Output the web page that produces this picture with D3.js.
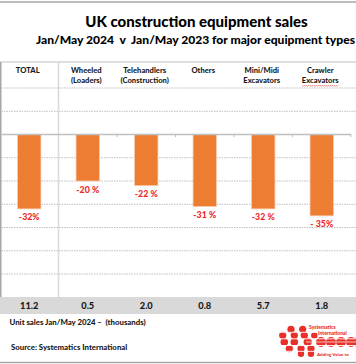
<!DOCTYPE html>
<html><head><meta charset="utf-8">
<script src="https://cdn.jsdelivr.net/npm/d3@7"></script>
<style>
html,body{margin:0;padding:0;background:#fff;}
text{font-family:"Lato","Noto Sans",sans-serif;font-weight:900;white-space:pre;}
</style></head>
<body>
<div id="chart"></div>
<script>
const categories = ["TOTAL","Wheeled","Telehandlers","Others","Mini/Midi","Crawler"];
const headerLine2 = ["","(Loaders)","(Construction)","","Excavators","Excavators"];
const changePct = [-32,-20,-22,-31,-32,-35];
const changeLabels = ["-32%","-20 %","-22 %","-31 %","-32 %","- 35%"];
const unitSales = ["11.2","0.5","2.0","0.8","5.7","1.8"];
const yTicks = [-60,-50,-40,-30,-20,-10,10,20];
const title = "UK construction equipment sales";
const subtitle = "Jan/May 2024  v  Jan/May 2023 for major equipment types";
const footnote = "Unit sales Jan/May 2024 \u2013  (thousands)";
const source = "Source: Systematics International";

const W = 356, H = 364;
const svg = d3.select("#chart").append("svg").attr("width",W).attr("height",H);
svg.append("rect").attr("width",W).attr("height",H).attr("fill","#fff");

const x = d3.scaleBand().domain(categories).range([0,351]).paddingInner(0.6).paddingOuter(0.3);
const y = d3.scaleLinear().domain([-70,20]).range([297.25,88]);
const step = x.step();
const cx = c => x(c) + x.bandwidth()/2;

// outer borders
svg.append("line").attr("x1",0).attr("x2",W).attr("y1",2).attr("y2",2).attr("stroke","#a6a6a6").attr("stroke-width",1.5);
svg.append("line").attr("x1",0).attr("x2",W).attr("y1",362.5).attr("y2",362.5).attr("stroke","#a6a6a6").attr("stroke-width",1.5);

// titles
svg.append("text").attr("x",196.5).attr("y",26.5).attr("text-anchor","middle").attr("font-size",15).attr("font-weight",700).attr("fill","#000").text(title);
const sub = svg.append("text").attr("x",36).attr("y",43.5).attr("font-size",12.1).attr("font-weight",700).attr("fill","#000").text(subtitle);
const sw = sub.node().getComputedTextLength();
if (36 + sw > 355) sub.attr("textLength",319).attr("lengthAdjust","spacingAndGlyphs");

// table frame
svg.append("line").attr("x1",0).attr("x2",W).attr("y1",62).attr("y2",62).attr("stroke","#bfbfbf").attr("stroke-width",1);
svg.append("line").attr("x1",0.75).attr("x2",0.75).attr("y1",62).attr("y2",297).attr("stroke","#a6a6a6").attr("stroke-width",1.5);
svg.append("line").attr("x1",step).attr("x2",step).attr("y1",62).attr("y2",297).attr("stroke","#d9d9d9").attr("stroke-width",1.5);

// gridlines
svg.append("g").selectAll("line").data(yTicks).join("line")
  .attr("x1",1.5).attr("x2",W).attr("y1",d=>y(d)).attr("y2",d=>y(d))
  .attr("stroke","#bfbfbf").attr("stroke-width",1).attr("stroke-dasharray","1.5,1");

// headers
const hdr = svg.append("g").attr("font-size",7.6).attr("fill","#1a1a1a").attr("text-anchor","middle");
hdr.selectAll("text.l1").data(categories).join("text").attr("class","l1")
  .attr("x",d=>cx(d)-1.5).attr("y",72.5).text(d=>d);
hdr.selectAll("text.l2").data(headerLine2).join("text").attr("class","l2")
  .attr("x",(d,i)=>cx(categories[i])-1.5).attr("y",83).text(d=>d);
// spell-check squiggle under last header
{
  const c = categories[5];
  const x0 = cx(c)-1.5-18, x1 = cx(c)-1.5+18;
  let p = `M${x0},85.3`;
  for (let xx = x0; xx < x1; xx += 2) p += ` L${xx+1},86.3 L${xx+2},85.3`;
  svg.append("path").attr("d",p).attr("fill","none").attr("stroke","#e84040").attr("stroke-width",0.6);
}

// bars
svg.append("g").selectAll("rect").data(changePct).join("rect")
  .attr("x",(d,i)=>x(categories[i])).attr("width",x.bandwidth())
  .attr("y",d=>y(Math.max(0,d))).attr("height",d=>Math.abs(y(d)-y(0)))
  .attr("fill","#ED7D31").attr("stroke","#f8cbad").attr("stroke-width",0.8);

// zero axis
svg.append("line").attr("x1",1.5).attr("x2",351).attr("y1",y(0)).attr("y2",y(0)).attr("stroke","#bfbfbf").attr("stroke-width",1.5);
svg.append("g").selectAll("line").data(d3.range(2,categories.length+1)).join("line")
  .attr("x1",i=>i*step).attr("x2",i=>i*step).attr("y1",y(0)).attr("y2",y(0)+2.5)
  .attr("stroke","#bfbfbf").attr("stroke-width",1);

// bar labels
svg.append("g").attr("font-size",8.8).attr("fill","#ee2a2a").attr("text-anchor","middle")
  .selectAll("text").data(changeLabels).join("text")
  .attr("x",(d,i)=>cx(categories[i])).attr("y",(d,i)=>y(changePct[i])+11.5).text(d=>d);

// unit sales band
svg.append("rect").attr("x",0).attr("y",297).attr("width",W).attr("height",17).attr("fill","#d9d9d9");
svg.append("g").attr("font-size",9.3).attr("fill","#1a1a1a").attr("text-anchor","middle")
  .selectAll("text").data(unitSales).join("text")
  .attr("x",(d,i)=>cx(categories[i])).attr("y",309).text(d=>d);

// footnotes
svg.append("text").attr("x",9.5).attr("y",325).attr("font-size",7.8).attr("fill","#1a1a1a").text(footnote);
svg.append("text").attr("x",11).attr("y",350).attr("font-size",7.8).attr("fill","#1a1a1a").text(source);

// logo (approximation)
const logo = svg.append("g").attr("fill","#e8302a");
const dots = [[291,329.3,3.6],[302.7,329.3,3.6],[282.7,335.3,3.6],[294.3,335.3,3.6],[304.3,335.3,3.6],[314.3,335.5,3.2],
  [284.3,342,3.8],[294.3,342,3.8],[307.7,342,4.2],[321,342,5],[331,342,5],[341,342,5],[351,342,5],[358,342,5],
  [289.3,348.7,3.6],[301,348.7,3.6],[311,348.7,3.6],[301,353.7,3.2],[311,353.7,3.2]];
logo.selectAll("circle").data(dots).join("circle").attr("cx",d=>d[0]).attr("cy",d=>d[1]).attr("r",d=>d[2]);
[332.3,338.8,345.5,351.3].forEach(yy=>{
  svg.append("line").attr("x1",278).attr("x2",W).attr("y1",yy).attr("y2",yy).attr("stroke","#fff").attr("stroke-width",0.9);
});
svg.append("line").attr("x1",306).attr("x2",W).attr("y1",342).attr("y2",342).attr("stroke","#fff").attr("stroke-width",0.7);
svg.append("text").attr("x",309).attr("y",329).attr("font-size",5).attr("fill","#e8302a").text("Systematics");
svg.append("text").attr("x",318).attr("y",334.5).attr("font-size",5).attr("fill","#e8302a").text("International");
svg.append("text").attr("x",317).attr("y",356).attr("font-size",4.5).attr("fill","#e8302a").text("Adding Value to");
</script>
</body></html>
